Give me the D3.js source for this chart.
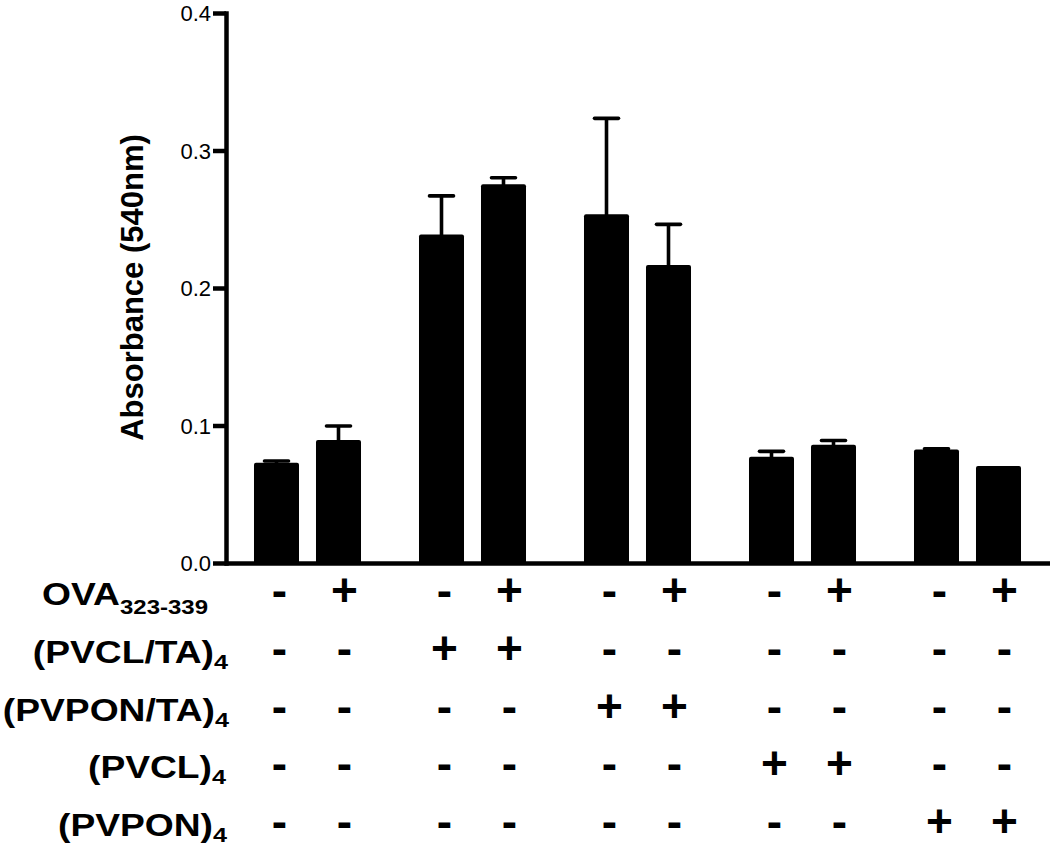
<!DOCTYPE html>
<html>
<head>
<meta charset="utf-8">
<script src="https://cdn.jsdelivr.net/npm/d3@7"></script>
<style>
  html, body { margin: 0; padding: 0; background: #fff; }
  svg { display: block; }
  text { font-family: "Liberation Sans", Arial, Helvetica, sans-serif; fill: #000; }
</style>
</head>
<body>
<svg id="chart" width="1050" height="847"></svg>
<script>
// ---------------- data ----------------
const groups = ["Control", "(PVCL/TA)4", "(PVPON/TA)4", "(PVCL)4", "(PVPON)4"];
const ovaStates = ["-", "+"];
// bar means, in order group by group, OVA - then OVA +
const means  = [0.073, 0.0895, 0.239, 0.2754, 0.2536, 0.2167, 0.0773, 0.0860, 0.0825, 0.0705];
const errors = [0.0012, 0.0101, 0.028, 0.0048, 0.0698, 0.0296, 0.0039, 0.0031, 0.0006, 0.0];
const yTicks = [0.0, 0.1, 0.2, 0.3, 0.4];
const yTitle = "Absorbance (540nm)";
const rowMain = ["OVA", "(PVCL/TA)", "(PVPON/TA)", "(PVCL)", "(PVPON)"];
const rowSub  = ["323-339", "4", "4", "4", "4"];
const signRows = [
  ["-", "+", "-", "+", "-", "+", "-", "+", "-", "+"],
  ["-", "-", "+", "+", "-", "-", "-", "-", "-", "-"],
  ["-", "-", "-", "-", "+", "+", "-", "-", "-", "-"],
  ["-", "-", "-", "-", "-", "-", "+", "+", "-", "-"],
  ["-", "-", "-", "-", "-", "-", "-", "-", "+", "+"]
];

// ---------------- layout ----------------
const svg = d3.select("#chart");
const axisX = 226, plotBottom = 563, plotTop = 13;

const y = d3.scaleLinear().domain([0, 0.4]).range([plotBottom, plotTop]);
const xGroup = d3.scaleBand().domain(groups).range([225, 1050]).paddingInner(0).paddingOuter(0);
const xInner = d3.scaleBand().domain(ovaStates)
  .range([xGroup.bandwidth() / 2 - 62, xGroup.bandwidth() / 2 + 62])
  .paddingInner(0.274).paddingOuter(0.137);

const bars = [];
groups.forEach((g, gi) => {
  ovaStates.forEach((o, oi) => {
    const i = gi * 2 + oi;
    bars.push({ g, o, i, v: means[i], e: errors[i] });
  });
});
const cx = d => xGroup(d.g) + xInner(d.o) + xInner.bandwidth() / 2;

// bars
svg.append("g").selectAll("rect").data(bars).join("rect")
  .attr("x", d => xGroup(d.g) + xInner(d.o))
  .attr("width", xInner.bandwidth())
  .attr("y", d => y(d.v))
  .attr("height", d => y(0) - y(d.v) + 2)
  .attr("rx", 2)
  .attr("fill", "#000");

// error bars (upper only)
const eb = svg.append("g").attr("stroke", "#000").attr("stroke-width", 3.6);
eb.selectAll("line.v").data(bars.filter(d => d.e > 0)).join("line")
  .attr("class", "v")
  .attr("x1", cx).attr("x2", cx)
  .attr("y1", d => y(d.v) + 1).attr("y2", d => y(d.v + d.e));
eb.selectAll("line.c").data(bars.filter(d => d.e > 0)).join("line")
  .attr("class", "c")
  .attr("x1", d => cx(d) - 12).attr("x2", d => cx(d) + 12)
  .attr("y1", d => y(d.v + d.e)).attr("y2", d => y(d.v + d.e))
  .attr("stroke-linecap", "round");

// x axis line
const xAxis = svg.append("g").attr("transform", `translate(0,${plotBottom})`)
  .call(d3.axisBottom(xGroup).tickSize(0).tickSizeOuter(0).tickFormat(""));
xAxis.select(".domain").attr("stroke-width", 4.5);

// y axis
const yAxis = svg.append("g").attr("transform", `translate(${axisX},0)`)
  .call(d3.axisLeft(y).tickValues(yTicks).tickFormat(d3.format(".1f")).tickSize(13).tickSizeOuter(0).tickPadding(2));
yAxis.select(".domain").attr("stroke-width", 4.5).attr("stroke-linecap", "square");
yAxis.selectAll(".tick line").attr("stroke-width", 4.5);
yAxis.selectAll(".tick text")
  .style("font-family", "'Liberation Sans', Arial, sans-serif")
  .style("font-size", "22px").attr("fill", "#000").attr("dy", "0.36em");

// y title
svg.append("text")
  .attr("transform", `translate(143,${(132 + 443) / 2}) rotate(-90)`)
  .attr("text-anchor", "middle")
  .style("font-size", "31px").style("font-weight", "bold")
  .text(yTitle);

// condition table
const rowY = d3.scalePoint().domain(rowMain).range([605, 836]);
const labelRight = [208, 228, 229, 226, 227];
rowMain.forEach((m, r) => {
  const t = svg.append("text")
    .attr("transform", `translate(${labelRight[r]},${rowY(m)}) scale(1.2,1)`)
    .attr("text-anchor", "end")
    .style("font-weight", "bold");
  t.append("tspan").style("font-size", "31px").text(m);
  t.append("tspan").style("font-size", r === 0 ? "20px" : "21px").attr("dy", r === 0 ? 9 : 6).text(rowSub[r]);
});

const cells = [];
signRows.forEach((row, r) => row.forEach((s, c) => cells.push({ r, c, s })));
svg.append("g").selectAll("text").data(cells).join("text")
  .attr("x", d => cx(bars[d.c]) + (d.c % 2 === 0 ? 3 : 6))
  .attr("y", d => rowY(rowMain[d.r]) + 1)
  .attr("text-anchor", "middle")
  .style("font-size", "46px").style("font-weight", "bold")
  .text(d => d.s);
</script>
</body>
</html>
